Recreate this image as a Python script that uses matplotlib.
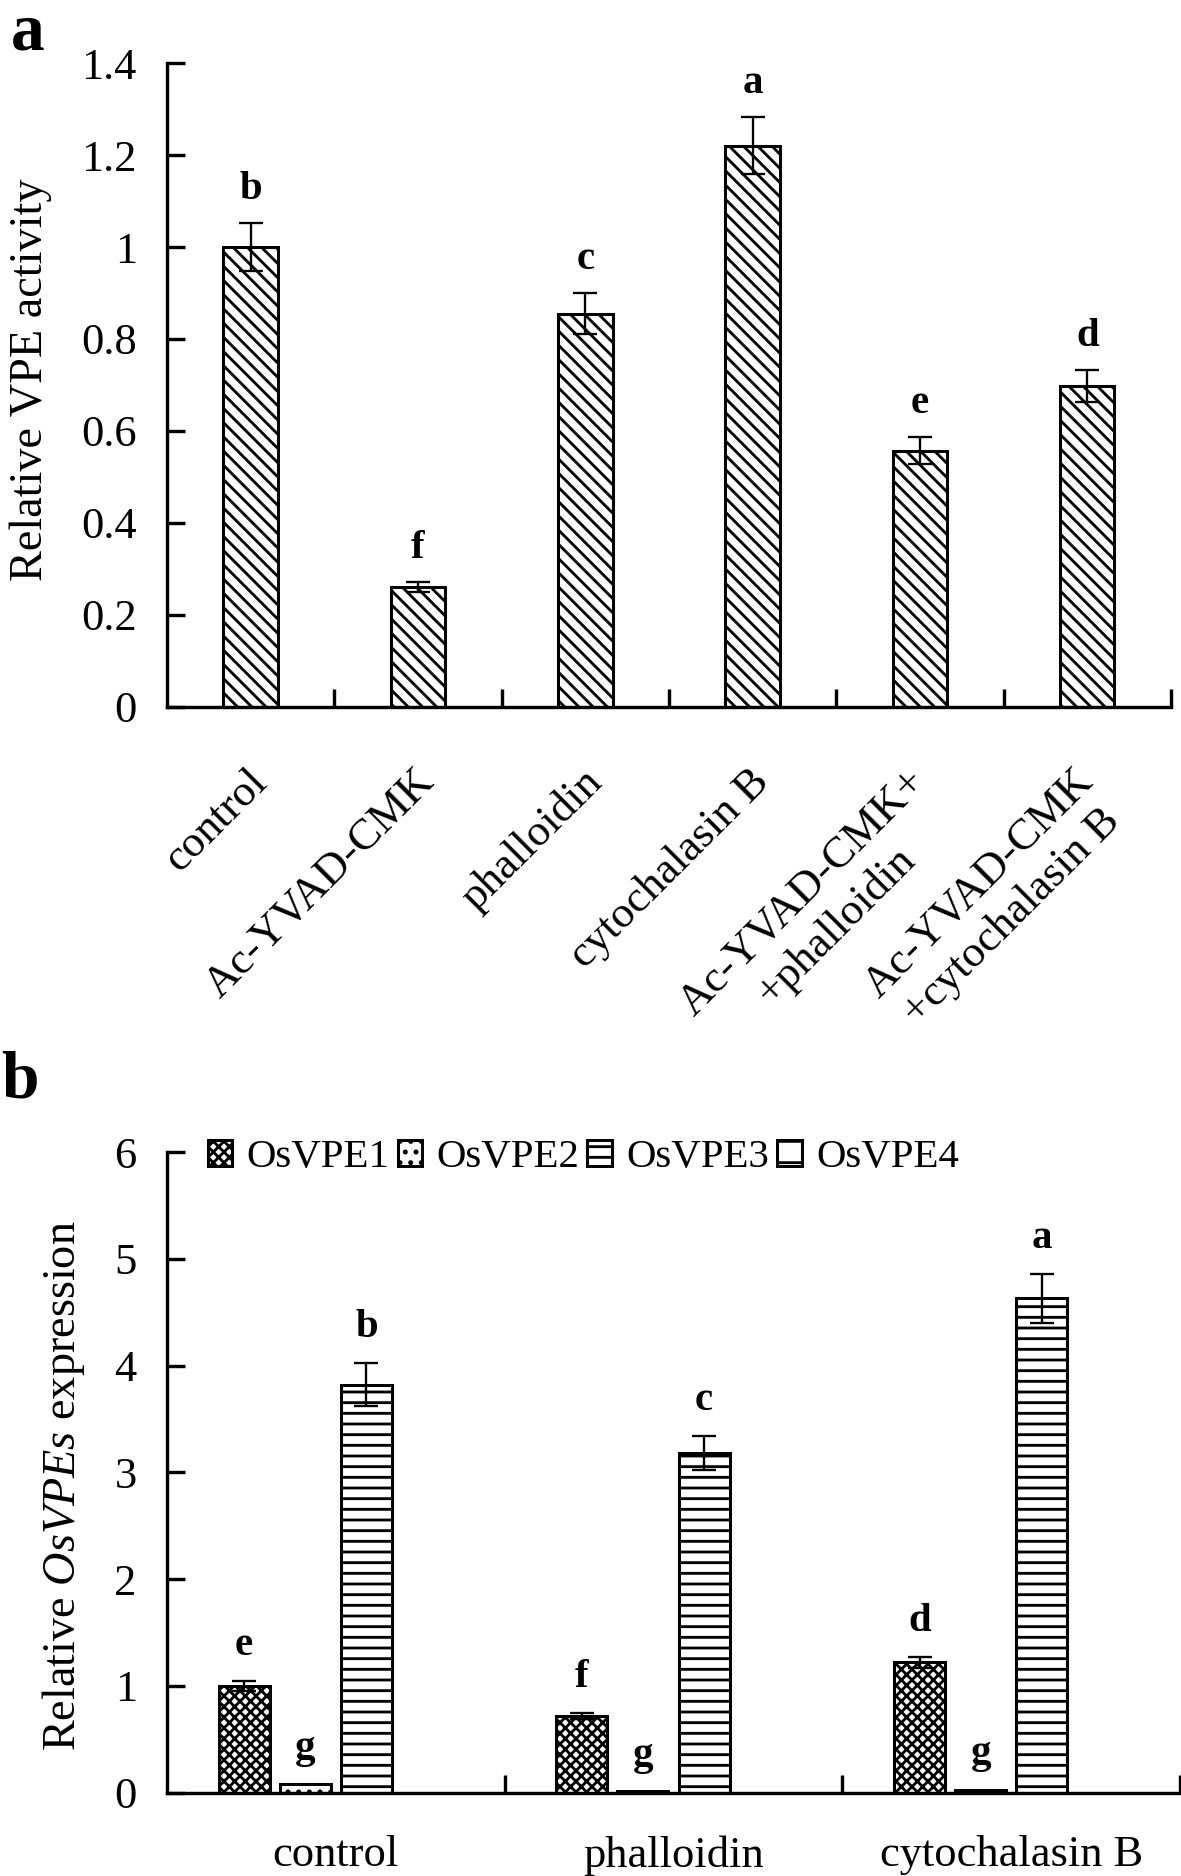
import numpy as np
import matplotlib
matplotlib.use("Agg")
import matplotlib.pyplot as plt
from matplotlib import transforms

# ---------------- data ----------------
act_labels = ["control", "Ac-YVAD-CMK", "phalloidin", "cytochalasin B",
              "Ac-YVAD-CMK+\n+phalloidin", "Ac-YVAD-CMK\n+cytochalasin B"]
act_values = [1.00, 0.26, 0.855, 1.22, 0.557, 0.698]
act_errors = [0.052, 0.011, 0.045, 0.062, 0.029, 0.035]
act_letters = ["b", "f", "c", "a", "e", "d"]
act_yticks = [0, 0.2, 0.4, 0.6, 0.8, 1.0, 1.2, 1.4]
act_yticklabels = ["0", "0.2", "0.4", "0.6", "0.8", "1", "1.2", "1.4"]

expr_groups = ["control", "phalloidin", "cytochalasin B"]
expr_series = ["OsVPE1", "OsVPE2", "OsVPE3", "OsVPE4"]
osvpe1 = [1.00, 0.72, 1.22]
osvpe1_err = [0.05, 0.03, 0.05]
osvpe2 = [0.08, 0.02, 0.03]
osvpe2_err = [0.0, 0.0, 0.0]
osvpe3 = [3.82, 3.18, 4.63]
osvpe3_err = [0.20, 0.16, 0.23]
osvpe4 = [0.0, 0.0, 0.0]
osvpe4_err = [0.0, 0.0, 0.0]
osvpe1_letters = ["e", "f", "d"]
osvpe2_letters = ["g", "g", "g"]
osvpe3_letters = ["b", "c", "a"]
expr_yticks = [0, 1, 2, 3, 4, 5, 6]

# ---------------- style ----------------
DPI = 128
plt.rcParams["font.family"] = ["Liberation Serif", "DejaVu Serif"]
plt.rcParams["mathtext.fontset"] = "custom"
plt.rcParams["mathtext.rm"] = "Liberation Serif"
plt.rcParams["mathtext.it"] = "Liberation Serif:italic"
plt.rcParams["hatch.linewidth"] = 1.6
plt.rcParams["hatch.color"] = "black"

TICK_FS = 25
LABEL_FS = 26
LETTER_FS = 23
PANEL_FS = 38
SPINE_LW = 1.9
EDGE_LW = 1.7

fig = plt.figure(figsize=(1181 / DPI, 1876 / DPI), dpi=DPI)


def style_axes(ax):
    for s in ("top", "right"):
        ax.spines[s].set_visible(False)
    for s in ("left", "bottom"):
        ax.spines[s].set_linewidth(SPINE_LW)
    ax.tick_params(axis="y", direction="in", length=10, width=SPINE_LW,
                   labelsize=TICK_FS, pad=17)


# ---------------- panel a ----------------
ax1 = fig.add_axes([0.1414, 0.6233, 0.9915 - 0.1414, 0.9663 - 0.6233])
x1 = np.arange(len(act_labels))
ax1.bar(x1, act_values, width=0.325, color="white", edgecolor="black",
        linewidth=EDGE_LW, hatch="\\\\\\", zorder=2)
ax1.errorbar(x1, act_values, yerr=act_errors, fmt="none", ecolor="black",
             elinewidth=1.3, capsize=6.5, capthick=1.3, zorder=3)
for xi, v, e, t in zip(x1, act_values, act_errors, act_letters):
    ax1.annotate(t, (xi, v + e), xytext=(0, 19), textcoords="offset points",
                 ha="center", va="center", fontsize=LETTER_FS,
                 fontweight="bold")
ax1.set_xlim(-0.5, len(act_labels) - 0.5)
ax1.set_ylim(0, 1.4)
style_axes(ax1)
ax1.set_yticks(act_yticks)
ax1.set_yticklabels(act_yticklabels)
ax1.set_xticks(x1)
ax1.set_xticklabels(act_labels, rotation=45, ha="right", va="top",
                    rotation_mode="anchor", multialignment="center")
ax1.tick_params(axis="x", which="major", length=0, labelsize=TICK_FS, pad=31)
ax1.set_xticks(np.arange(0.5, len(act_labels)), minor=True)
ax1.tick_params(axis="x", which="minor", direction="in", length=10,
                width=SPINE_LW)
for lab in ax1.get_xticklabels():
    dx = -14 if "\n" in lab.get_text() else -4
    shift = transforms.ScaledTranslation(dx / DPI, 0, fig.dpi_scale_trans)
    lab.set_transform(lab.get_transform() + shift)

fig.text(31 / 1181, 1 - 380 / 1876, "Relative VPE activity", rotation=90,
         ha="center", va="center", fontsize=LABEL_FS)
fig.text(28 / 1181, 1 - 2 / 1876, "a", ha="center", va="top",
         fontsize=PANEL_FS, fontweight="bold")

# ---------------- panel b ----------------
ax2 = fig.add_axes([0.1414, 0.0444, 0.9992 - 0.1414, 0.3859 - 0.0444])
g = np.arange(len(expr_groups))
step = 0.181
width = 0.151
series_vals = [osvpe1, osvpe2, osvpe3, osvpe4]
series_errs = [osvpe1_err, osvpe2_err, osvpe3_err, osvpe4_err]
series_letters = [osvpe1_letters, osvpe2_letters, osvpe3_letters, None]
hatches = ["xxxx", "..", "--", "-"]
handles = []
for i, (vals, errs, lets, h, name) in enumerate(
        zip(series_vals, series_errs, series_letters, hatches, expr_series)):
    xs = g + (i - 1.5) * step
    bc = ax2.bar(xs, vals, width=width, color="white", edgecolor="black",
                 linewidth=EDGE_LW, hatch=h, label=name, zorder=2)
    handles.append(bc)
    errs = np.asarray(errs)
    m = errs > 0
    if m.any():
        ax2.errorbar(xs[m], np.asarray(vals)[m], yerr=errs[m], fmt="none",
                     ecolor="black", elinewidth=1.3, capsize=6.5, capthick=1.3,
                     zorder=3)
    if lets is not None:
        for xi, v, e, t in zip(xs, vals, errs, lets):
            ax2.annotate(t, (xi, v + e), xytext=(0, 20),
                         textcoords="offset points", ha="center", va="center",
                         fontsize=LETTER_FS, fontweight="bold")
ax2.set_xlim(-0.5, len(expr_groups) - 0.5)
ax2.set_ylim(0, 6)
style_axes(ax2)
ax2.set_yticks(expr_yticks)
ax2.set_xticks(g)
ax2.set_xticklabels(expr_groups)
ax2.tick_params(axis="x", which="major", length=0, labelsize=TICK_FS, pad=24)
ax2.set_xticks(np.arange(0.5, len(expr_groups)), minor=True)
ax2.tick_params(axis="x", which="minor", direction="in", length=10,
                width=SPINE_LW)
leg = ax2.legend(handles=handles, loc="upper left", bbox_to_anchor=(0.04, 1.02),
                 ncol=4, frameon=False, fontsize=23, handlelength=0.6,
                 handleheight=0.6, handletextpad=0.35, columnspacing=0.2,
                 borderaxespad=0, borderpad=0)

fig.text(64 / 1181, 1 - 1486 / 1876, r"Relative $\mathit{OsVPEs}$ expression",
         rotation=90, ha="center", va="center", fontsize=LABEL_FS)
fig.text(20 / 1181, 1 - 1098 / 1876, "b", ha="center", va="baseline",
         fontsize=PANEL_FS, fontweight="bold")

fig.savefig("out.png", dpi=DPI)
